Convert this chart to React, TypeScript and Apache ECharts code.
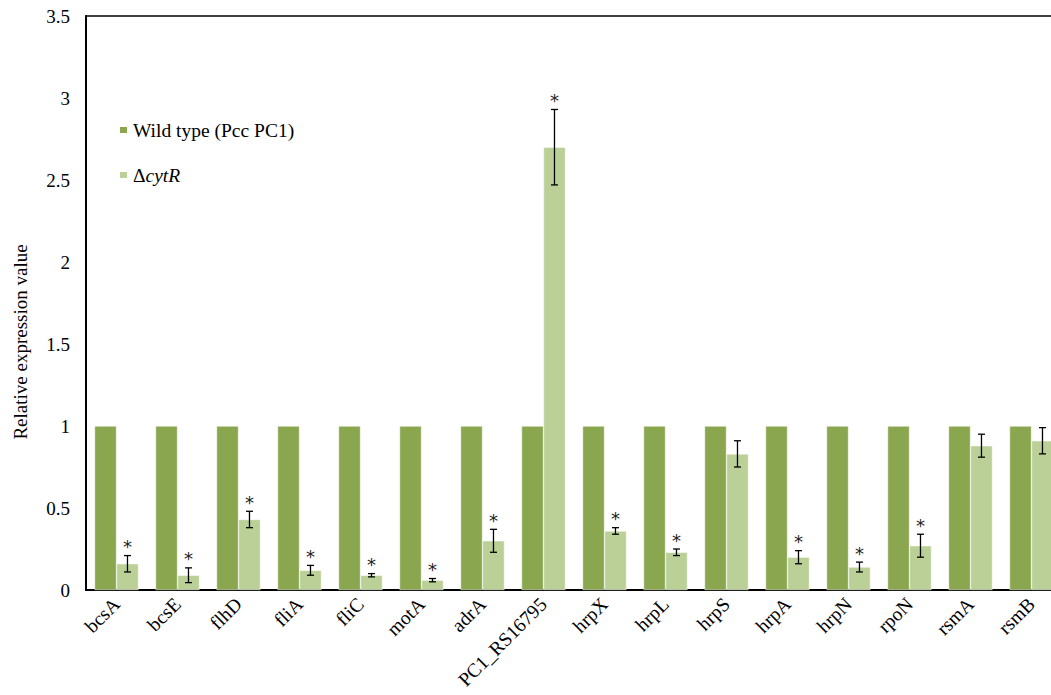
import React, { useEffect, useRef } from "react";
import * as echarts from "echarts";

const categories = ["bcsA", "bcsE", "flhD", "fliA", "fliC", "motA", "adrA", "PC1_RS16795", "hrpX", "hrpL", "hrpS", "hrpA", "hrpN", "rpoN", "rsmA", "rsmB"];
const wildType = [1, 1, 1, 1, 1, 1, 1, 1, 1, 1, 1, 1, 1, 1, 1, 1];
const mutant = [0.16, 0.09, 0.43, 0.12, 0.09, 0.06, 0.30, 2.70, 0.36, 0.23, 0.83, 0.20, 0.14, 0.27, 0.88, 0.91];
const mutantErr = [0.05, 0.045, 0.05, 0.03, 0.01, 0.01, 0.07, 0.23, 0.02, 0.02, 0.08, 0.04, 0.03, 0.07, 0.07, 0.08];
const significant = [1, 1, 1, 1, 1, 1, 1, 1, 1, 1, 0, 1, 1, 1, 0, 0];
const seriesNames = ["Wild type (Pcc PC1)", "ΔcytR"];
const yAxisTitle = "Relative expression value";

const FONT = "Liberation Serif";
const DARK = "#8AA64F";
const LIGHT = "#BAD096";
const GAP = 0.28;

export default function App() {
  const ref = useRef<HTMLDivElement>(null);
  useEffect(() => {
    document.body.style.margin = "0";
    const chart = echarts.init(ref.current!, null, { renderer: "svg" });
    const errData = mutant.map((v, i) => [i, v, mutantErr[i], significant[i]]);
    chart.setOption({
      animation: false,
      backgroundColor: "#fff",
      textStyle: { fontFamily: FONT },
      grid: { left: 86, top: 16, bottom: 105, right: 8, show: true, borderColor: "#000", borderWidth: 1.5 },
      graphic: [
        {
          type: "text",
          x: 20,
          y: 342,
          rotation: Math.PI / 2,
          style: {
            text: yAxisTitle,
            fontFamily: FONT,
            fontSize: 19,
            fill: "#000",
            align: "center",
            verticalAlign: "middle",
          },
        },
      ],
      legend: {
        data: seriesNames,
        orient: "vertical",
        left: 113,
        top: 115,
        itemWidth: 9,
        itemHeight: 8,
        itemGap: 25,
        icon: "rect",
        textStyle: {
          fontFamily: FONT,
          fontSize: 19.5,
          color: "#000",
          rich: {
            n: { fontFamily: FONT, fontSize: 19.5, color: "#000" },
            i: { fontFamily: FONT, fontSize: 19.5, fontStyle: "italic", color: "#000" },
          },
        },
        formatter: (n: string) => (n === "ΔcytR" ? "{n|Δ}{i|cytR}" : "{n|" + n + "}"),
      },
      xAxis: {
        type: "category",
        data: categories,
        axisLine: { lineStyle: { color: "#000", width: 2 } },
        axisTick: { show: false },
        axisLabel: { rotate: 45, fontFamily: FONT, fontSize: 19.5, color: "#000", margin: 11, interval: 0 },
      },
      yAxis: {
        type: "value",
        min: 0,
        max: 3.5,
        interval: 0.5,
        axisLine: { show: true, lineStyle: { color: "#000", width: 2 } },
        axisTick: { show: false },
        splitLine: { show: false },
        axisLabel: { fontFamily: FONT, fontSize: 19, color: "#000", margin: 16 },
      },
      series: [
        {
          name: seriesNames[0],
          type: "bar",
          data: wildType,
          barGap: "0%",
          barCategoryGap: GAP * 100 + "%",
          itemStyle: { color: DARK, borderColor: "#fff", borderWidth: 0.5 },
        },
        {
          name: seriesNames[1],
          type: "bar",
          data: mutant,
          itemStyle: { color: LIGHT, borderColor: "#fff", borderWidth: 0.5 },
        },
        {
          type: "custom",
          name: "err",
          data: errData,
          z: 10,
          renderItem: (params: any, api: any) => {
            const i = api.value(0);
            const v = api.value(1);
            const e = api.value(2);
            const sig = api.value(3);
            const band = api.size([1, 0])[0];
            const off = (band * (1 - GAP)) / 4;
            const top = api.coord([i, v + e]);
            const bot = api.coord([i, v - e]);
            const x = top[0] + off;
            const cap = 3.5;
            const style = { stroke: "#000", lineWidth: 1.3 };
            const children: any[] = [
              { type: "line", shape: { x1: x, y1: top[1], x2: x, y2: bot[1] }, style },
              { type: "line", shape: { x1: x - cap, y1: top[1], x2: x + cap, y2: top[1] }, style },
              { type: "line", shape: { x1: x - cap, y1: bot[1], x2: x + cap, y2: bot[1] }, style },
            ];
            if (sig) {
              children.push({
                type: "text",
                style: {
                  text: "*",
                  x: x,
                  y: top[1] - 9,
                  align: "center",
                  verticalAlign: "middle",
                  fontFamily: "DejaVu Sans",
                  fontSize: 18,
                  fill: "#222",
                },
              });
            }
            return { type: "group", children };
          },
        },
      ],
    });
    return () => chart.dispose();
  }, []);
  return (
    <div style={{ width: 1051, height: 695, overflow: "hidden", position: "relative" }}>
      <div ref={ref} style={{ width: 1070, height: 695 }} />
    </div>
  );
}
